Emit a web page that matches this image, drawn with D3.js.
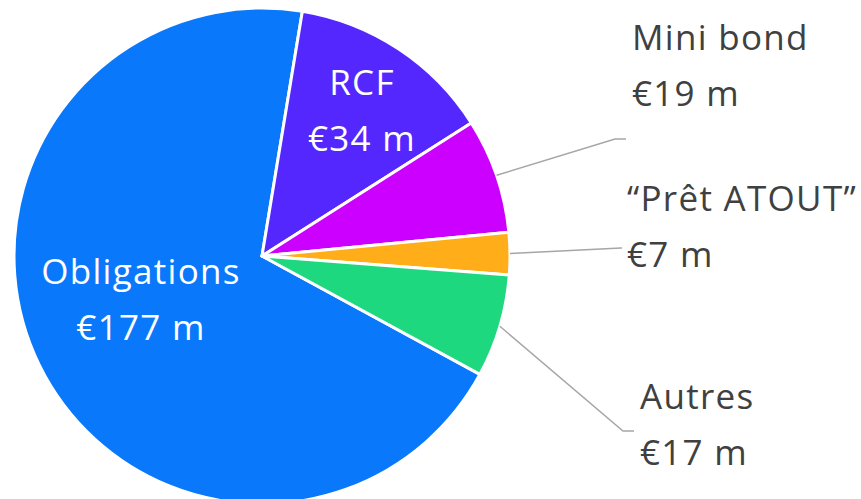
<!DOCTYPE html>
<html>
<head>
<meta charset="utf-8">
<script src="https://cdn.jsdelivr.net/npm/d3@7"></script>
<style>
  body { margin: 0; background: #fff; }
  text { font-family: "Open Sans", sans-serif; font-size: 35px; letter-spacing: 1.3px; }
</style>
</head>
<body>
<div id="root"></div>
<script>
const categories = ["Obligations", "RCF", "Mini bond", "\u201cPr\u00eat ATOUT\u201d", "Autres"];
const values = [177, 34, 19, 7, 17];
const valueLabels = ["\u20ac177 m", "\u20ac34 m", "\u20ac19 m", "\u20ac7 m", "\u20ac17 m"];
const colors = ["#0a78fb", "#5427ff", "#cc00ff", "#ffae19", "#1dd87f"];

const width = 861, height = 499;
const cx = 262, cy = 256, radius = 248;

const svg = d3.select("#root").append("svg")
    .attr("width", width)
    .attr("height", height);

const g = svg.append("g").attr("transform", `translate(${cx},${cy})`);

// Obligations starts a bit below the 4 o'clock position and wraps round past the top
const start = 118.5 * Math.PI / 180;
const pie = d3.pie().sort(null).startAngle(start).endAngle(start + 2 * Math.PI);
const arcs = pie(values);

const arc = d3.arc().innerRadius(0).outerRadius(radius);

g.selectAll("path.slice")
    .data(arcs)
    .enter()
    .append("path")
    .attr("class", "slice")
    .attr("d", arc)
    .attr("fill", (d, i) => colors[i])
    .attr("stroke", "#fff")
    .attr("stroke-width", 3)
    .attr("stroke-linejoin", "round");

// labels inside the big slices
const inside = {0: [141 - cx, 284 - cy], 1: [362 - cx, 95 - cy]};
Object.keys(inside).forEach(k => {
    const i = +k;
    const [x, y] = inside[i];
    g.append("text").attr("x", x).attr("y", y).attr("text-anchor", "middle")
        .attr("fill", "#fff").text(categories[i]);
    g.append("text").attr("x", x).attr("y", y + 56).attr("text-anchor", "middle")
        .attr("fill", "#fff").text(valueLabels[i]);
});

// outside labels with connectors: elbow point, text x, name baseline
const outside = {
    2: {elbow: [615, 139], end: 626, tx: 632, ty: 50},
    3: {elbow: [621, 248], end: 622, tx: 627, ty: 211},
    4: {elbow: [623, 431], end: 634, tx: 640, ty: 409}
};
const edge = d3.arc().innerRadius(radius).outerRadius(radius);
Object.keys(outside).forEach(k => {
    const i = +k, o = outside[i];
    const p = edge.centroid(arcs[i]);
    const pts = [[p[0] + cx, p[1] + cy], o.elbow, [o.end, o.elbow[1]]];
    svg.append("path")
        .attr("d", d3.line()(pts))
        .attr("fill", "none")
        .attr("stroke", "#a6a6a6")
        .attr("stroke-width", 1.5);
    svg.append("text").attr("x", o.tx).attr("y", o.ty)
        .attr("fill", "#404040").text(categories[i]);
    svg.append("text").attr("x", o.tx).attr("y", o.ty + 56)
        .attr("fill", "#404040").text(valueLabels[i]);
});
</script>
</body>
</html>
